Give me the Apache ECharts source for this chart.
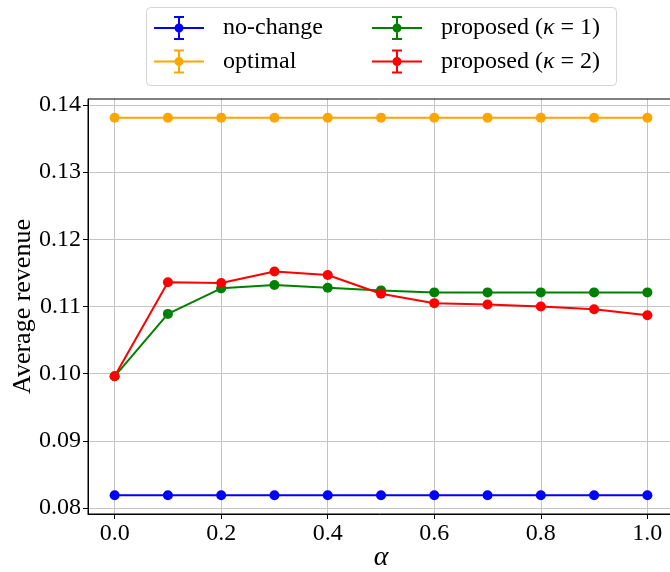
<!DOCTYPE html>
<html>
<head>
<meta charset="utf-8">
<script src="https://cdn.jsdelivr.net/npm/echarts@6/dist/echarts.min.js"></script>
<style>html,body{margin:0;padding:0;background:#fff;}#c{width:670px;height:572px;}</style>
</head>
<body>
<div id="c"></div>
<script>
const alpha = [0.0, 0.1, 0.2, 0.3, 0.4, 0.5, 0.6, 0.7, 0.8, 0.9, 1.0];
const noChange = [0.0819, 0.0819, 0.0819, 0.0819, 0.0819, 0.0819, 0.0819, 0.0819, 0.0819, 0.0819, 0.0819];
const optimal = [0.1381, 0.1381, 0.1381, 0.1381, 0.1381, 0.1381, 0.1381, 0.1381, 0.1381, 0.1381, 0.1381];
const proposedK1 = [0.0996, 0.1089, 0.1127, 0.1132, 0.1128, 0.1124, 0.1121, 0.1121, 0.1121, 0.1121, 0.1121];
const proposedK2 = [0.0996, 0.1136, 0.1135, 0.1152, 0.1147, 0.1119, 0.1105, 0.1103, 0.1100, 0.1096, 0.1087];
const xTicks = [0.0, 0.2, 0.4, 0.6, 0.8, 1.0];
const yTicks = [0.08, 0.09, 0.10, 0.11, 0.12, 0.13, 0.14];
const names = ['no-change', 'optimal', 'proposed (κ = 1)', 'proposed (κ = 2)'];
const colors = ['#0000ff', '#ffa500', '#008000', '#ff0000'];

const FONT = 'Liberation Serif';
const icon = 'path://M0,11H50V13H0Z M24,1H26V23H24Z M20,0H30V2H20Z M20,22H30V24H20Z M29.5,12A4.5,4.5,0,1,1,20.5,12A4.5,4.5,0,1,1,29.5,12Z';

// plot frame (pixels) and axis extents
const W = 670, H = 572;
const PL = 88, PR = 674, PT = 99, PB = 514;
const XMIN = -0.05, XMAX = 1.05, YMIN = 0.0791, YMAX = 0.1409;
const xpx = v => PL + (v - XMIN) / (XMAX - XMIN) * (PR - PL);
const ypx = v => PB - (v - YMIN) / (YMAX - YMIN) * (PB - PT);

const pairs = arr => alpha.map((a, i) => [a, arr[i]]);
const allData = [noChange, optimal, proposedK1, proposedK2];

const legendText = {
  fontFamily: FONT, fontSize: 24, color: '#000', lineHeight: 24, padding: [0, 0, 0, 14],
  rich: { i: { fontFamily: FONT, fontSize: 24, fontStyle: 'italic', color: '#000', lineHeight: 24 } }
};
const legendFmt = n => n.replace('κ', '{i|κ}');
function mkLegend(left, data) {
  return {
    orient: 'vertical', left: left, top: 16, padding: 0,
    itemWidth: 50, itemHeight: 24, itemGap: 9.5,
    icon: icon, data: data, textStyle: legendText, formatter: legendFmt,
    itemStyle: { borderWidth: 0 }, lineStyle: { width: 0 }, selectedMode: false
  };
}

const gridLine = { show: true, lineStyle: { color: '#c4c4c4', width: 1 } };
const hidden = { axisLine: { show: false }, axisTick: { show: false }, axisLabel: { show: false } };

const chart = echarts.init(document.getElementById('c'));
chart.setOption({
  animation: false,
  backgroundColor: '#fff',
  graphic: [{
    type: 'rect', left: 146, top: 7, z: 0,
    shape: { width: 470, height: 78, r: 4 },
    style: { fill: '#fff', stroke: '#d4d4d4', lineWidth: 1 }
  }],
  legend: [mkLegend(154, names.slice(0, 2)), mkLegend(372, names.slice(2, 4))],
  grid: [
    { left: PL, right: W - PR, top: PT, bottom: H - PB, show: true, borderColor: '#000', borderWidth: 1,
      backgroundColor: 'transparent', outerBoundsMode: 'none', containLabel: false, z: 3 },
    // vertical gridlines at the x tick values, full plot height
    { left: xpx(xTicks[0]), right: W - xpx(xTicks[xTicks.length - 1]), top: PT, bottom: H - PB,
      show: false, outerBoundsMode: 'none', containLabel: false, z: 0 },
    // horizontal gridlines at the y tick values, full plot width
    { left: PL, right: W - PR, top: ypx(yTicks[yTicks.length - 1]), bottom: H - ypx(yTicks[0]),
      show: false, outerBoundsMode: 'none', containLabel: false, z: 0 }
  ],
  xAxis: [{
    type: 'value', gridIndex: 0, min: XMIN, max: XMAX,
    name: 'α', nameLocation: 'middle', nameGap: 30, nameMoveOverlap: false,
    nameTextStyle: { fontFamily: FONT, fontSize: 28, fontStyle: 'italic', color: '#000' },
    axisLine: { show: true, onZero: false, lineStyle: { color: '#000', width: 1 } },
    axisTick: { show: true, inside: false, length: 5, customValues: xTicks, lineStyle: { color: '#000' } },
    axisLabel: { customValues: xTicks, margin: 8, fontFamily: FONT, fontSize: 24, color: '#000', formatter: v => v.toFixed(1) },
    splitLine: { show: false }
  }, Object.assign({
    type: 'value', gridIndex: 1, min: xTicks[0], max: xTicks[xTicks.length - 1], interval: 0.2, splitLine: gridLine
  }, hidden), Object.assign({
    type: 'value', gridIndex: 2, min: 0, max: 1, splitLine: { show: false }
  }, hidden)],
  yAxis: [{
    type: 'value', gridIndex: 0, min: YMIN, max: YMAX,
    name: 'Average revenue', nameLocation: 'middle', nameGap: 52, nameMoveOverlap: false,
    nameTextStyle: { fontFamily: FONT, fontSize: 26, color: '#000' },
    axisLine: { show: true, onZero: false, lineStyle: { color: '#000', width: 1 } },
    axisTick: { show: true, inside: false, length: 5, customValues: yTicks, lineStyle: { color: '#000' } },
    axisLabel: { customValues: yTicks, margin: 7, fontFamily: FONT, fontSize: 24, color: '#000', formatter: v => v.toFixed(2) },
    splitLine: { show: false }
  }, Object.assign({
    type: 'value', gridIndex: 1, min: 0, max: 1, splitLine: { show: false }
  }, hidden), Object.assign({
    type: 'value', gridIndex: 2, min: yTicks[0], max: yTicks[yTicks.length - 1], interval: 0.01, splitLine: gridLine
  }, hidden)],
  series: names.map((n, i) => ({
    name: n, type: 'line', data: pairs(allData[i]), xAxisIndex: 0, yAxisIndex: 0,
    symbol: 'circle', symbolSize: 10, showAllSymbol: true,
    lineStyle: { color: colors[i], width: 2 },
    itemStyle: { color: colors[i], borderWidth: 0 },
    z: 4 + i
  }))
});
</script>
</body>
</html>
